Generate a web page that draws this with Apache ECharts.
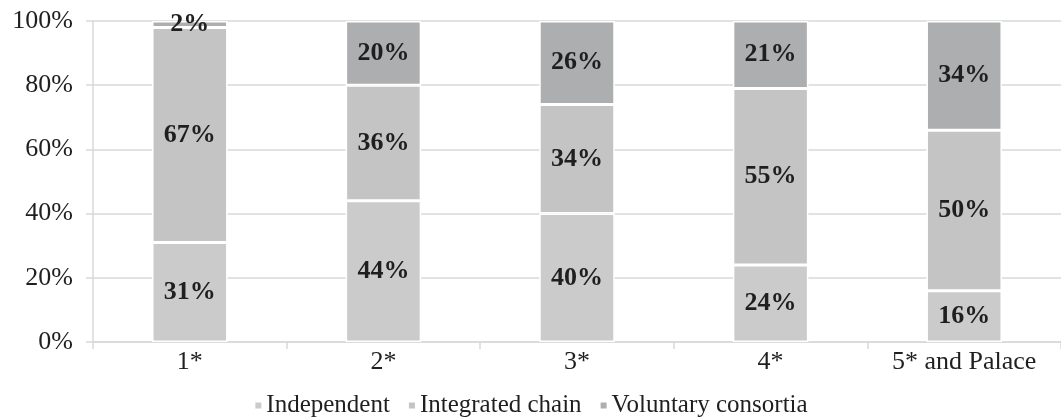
<!DOCTYPE html>
<html>
<head>
<meta charset="utf-8">
<script src="https://cdn.jsdelivr.net/npm/echarts@6/dist/echarts.min.js"></script>
<style>
  html, body { margin: 0; padding: 0; background: #fff; }
  #chart { width: 1061px; height: 420px; }
</style>
</head>
<body>
<div id="chart"></div>
<script>
// Hotel categories and the share of each ownership type (percent)
const categories = ['1*', '2*', '3*', '4*', '5* and Palace'];
const independent = [31, 44, 40, 24, 16];
const integratedChain = [67, 36, 34, 55, 50];
const voluntaryConsortia = [2, 20, 26, 21, 34];
const yTicks = [0, 20, 40, 60, 80, 100];

const FONT = '"Liberation Serif", "Times New Roman", serif';
const TEXT = '#1f1f1f';
const LINE = '#d9d9d9';

function segment(name, values, color) {
  return {
    name: name,
    type: 'bar',
    stack: 'share',
    barWidth: '39%',
    data: values,
    itemStyle: { color: color, borderColor: '#ffffff', borderWidth: 1.5 },
    label: {
      show: true,
      position: 'inside',
      formatter: '{c}%',
      fontFamily: FONT,
      fontWeight: 'bold',
      fontSize: 26,
      color: TEXT
    },
    emphasis: { disabled: true }
  };
}

const chart = echarts.init(document.getElementById('chart'), null, { renderer: 'canvas' });
chart.setOption({
  animation: false,
  backgroundColor: '#ffffff',
  textStyle: { fontFamily: FONT },
  grid: { left: 93, right: -7, top: 21, bottom: 78, containLabel: false },
  legend: {
    bottom: -3,
    left: 'center',
    icon: 'rect',
    itemWidth: 8,
    itemHeight: 8,
    itemGap: 17,
    textStyle: { fontFamily: FONT, fontSize: 25, color: TEXT, padding: [0, 0, 0, -1] },
    data: ['Independent', 'Integrated chain', 'Voluntary consortia']
  },
  xAxis: {
    type: 'category',
    data: categories,
    boundaryGap: true,
    axisLine: { show: true, lineStyle: { color: LINE, width: 1.5 } },
    axisTick: { show: true, length: 7, lineStyle: { color: LINE, width: 1.5 } },
    axisLabel: { fontFamily: FONT, fontSize: 26, color: TEXT, margin: 7 }
  },
  yAxis: {
    type: 'value',
    min: yTicks[0],
    max: yTicks[yTicks.length - 1],
    interval: yTicks[1] - yTicks[0],
    axisLine: { show: true, lineStyle: { color: LINE, width: 1.5 } },
    axisTick: { show: true, length: 7, lineStyle: { color: LINE, width: 1.5 } },
    splitLine: { show: true, lineStyle: { color: LINE, width: 1.5 } },
    axisLabel: { fontFamily: FONT, fontSize: 26, color: TEXT, margin: 20, formatter: '{value}%' }
  },
  series: [
    segment('Independent', independent, '#cbcbcc'),
    segment('Integrated chain', integratedChain, '#c4c4c5'),
    segment('Voluntary consortia', voluntaryConsortia, '#adaeb0')
  ]
});
</script>
</body>
</html>
